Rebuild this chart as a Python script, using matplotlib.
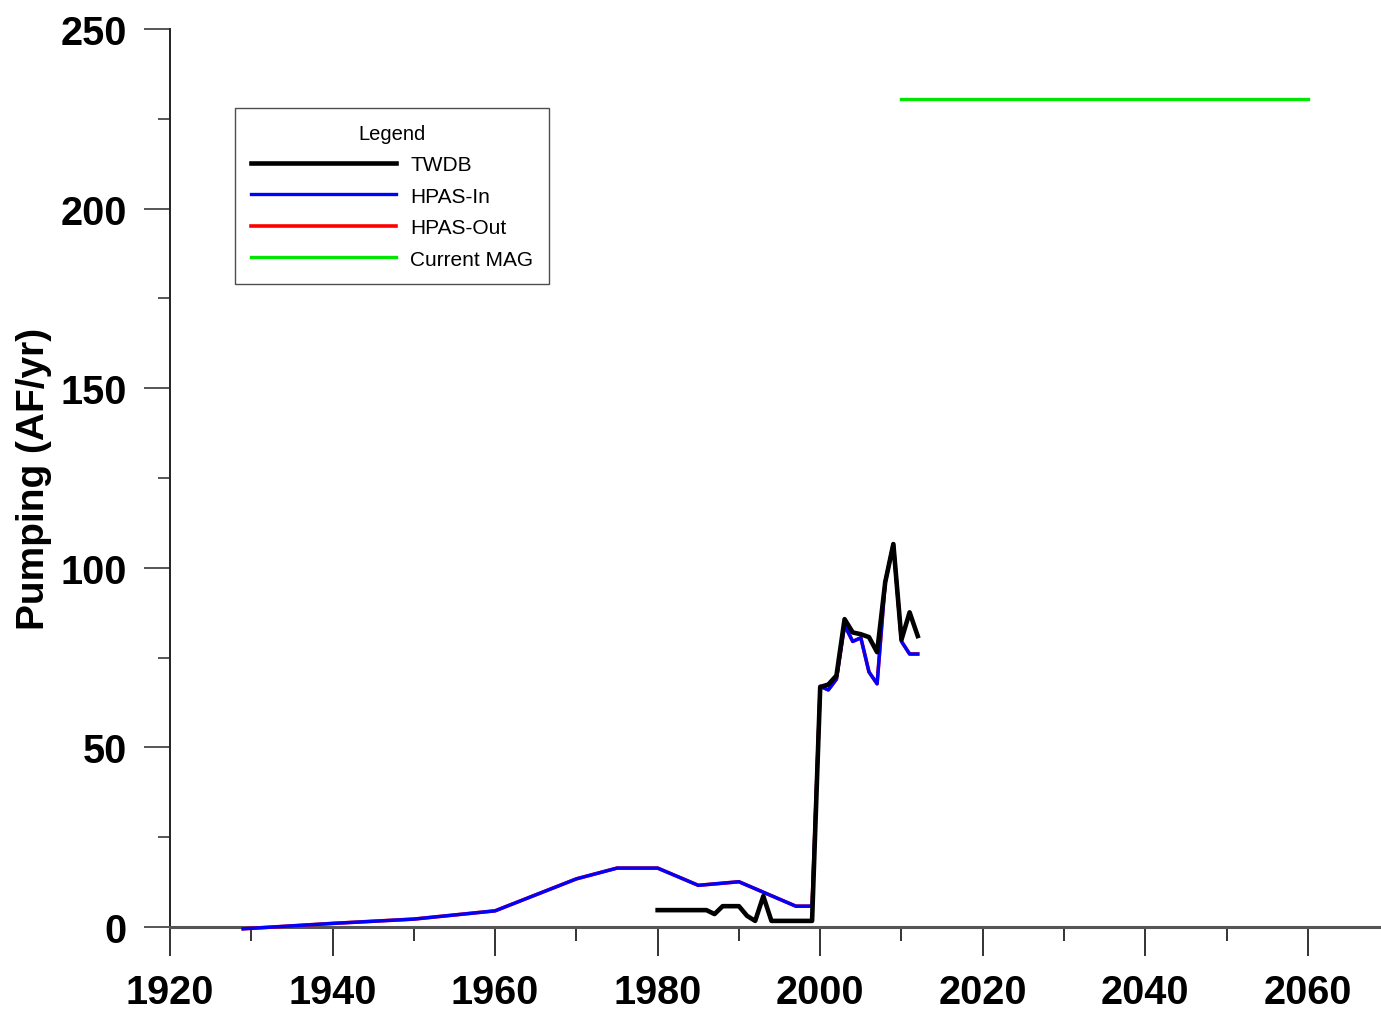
import matplotlib
matplotlib.use("Agg")
import matplotlib.pyplot as plt
from matplotlib.ticker import MultipleLocator

plt.rcParams["font.family"] = ["Liberation Sans", "DejaVu Sans"]

# --- data ---
twdb_years = list(range(1980, 2013))
twdb = [4.7, 4.7, 4.7, 4.7, 4.7, 4.7, 4.7, 3.6, 5.8, 5.8, 5.8, 3.1, 1.7, 8.6,
        1.7, 1.7, 1.7, 1.7, 1.7, 1.7, 66.8, 67.5, 70.0, 85.7, 82.0, 81.5, 80.7,
        76.5, 96.0, 106.6, 80.0, 87.6, 81.0]

hpas_years = [1929, 1940, 1950, 1960, 1970, 1975, 1980, 1985, 1990, 1997, 1998,
              1999, 2000, 2001, 2002, 2003, 2004, 2005, 2006, 2007, 2008, 2009,
              2010, 2011, 2012]
hpas_in = [-0.5, 1.0, 2.2, 4.5, 13.4, 16.4, 16.4, 11.6, 12.6, 5.8, 5.8, 5.8,
           67.0, 66.0, 69.0, 84.0, 79.5, 80.5, 71.0, 67.7, 96.0, 106.6, 79.5,
           76.0, 76.0]
# HPAS-Out sits right under HPAS-In in the reference
hpas_out = [-0.5, 1.0, 2.2, 4.5, 13.4, 16.4, 16.4, 11.6, 12.6, 5.8, 5.8, 5.8,
            67.0, 66.0, 69.0, 84.0, 79.5, 80.5, 71.0, 67.7, 96.0, 106.6, 79.5,
            76.0, 76.0]

mag_years = [2010, 2060]
mag = [230.5, 230.5]

BLACK, BLUE, RED, GREEN = "#000000", "#0000ff", "#ff0000", "#00e600"

fig = plt.figure(figsize=(13.81, 10.12), dpi=100)
ax = fig.add_axes([0.1231, 0.083, 0.8769, 0.8874])

ax.plot(hpas_years, hpas_out, color=RED, lw=2.6, zorder=3, clip_on=False,
        label="HPAS-Out")
ax.plot(hpas_years, hpas_in, color=BLUE, lw=2.4, zorder=4, clip_on=False,
        label="HPAS-In")
ax.plot(twdb_years, twdb, color=BLACK, lw=3.3, zorder=5, clip_on=False,
        label="TWDB")
ax.plot(mag_years, mag, color=GREEN, lw=2.4, zorder=3, label="Current MAG")

ax.set_xlim(1920, 2069)
ax.set_ylim(0, 250)
ax.xaxis.set_major_locator(MultipleLocator(20))
ax.xaxis.set_minor_locator(MultipleLocator(10))
ax.yaxis.set_major_locator(MultipleLocator(50))
ax.yaxis.set_minor_locator(MultipleLocator(25))

for s in ("top", "right"):
    ax.spines[s].set_visible(False)
ax.spines["bottom"].set_color("#555555")
ax.spines["bottom"].set_linewidth(2.2)
ax.spines["left"].set_color("#222222")
ax.spines["left"].set_linewidth(1.4)

ax.tick_params(axis="x", which="major", direction="out", length=21, width=1.4,
               color="#333333", pad=12, labelsize=28.5)
ax.tick_params(axis="x", which="minor", direction="out", length=10, width=1.4,
               color="#333333")
ax.tick_params(axis="y", which="major", direction="out", length=19, width=1.4,
               color="#555555", pad=12, labelsize=28.5)
ax.tick_params(axis="y", which="minor", direction="out", length=9, width=1.4,
               color="#555555")
for lab in ax.get_xticklabels() + ax.get_yticklabels():
    lab.set_fontweight("bold")

ax.set_ylabel("Pumping (AF/yr)", fontsize=28, fontweight="bold", labelpad=6)

handles, labels = ax.get_legend_handles_labels()
order = ["TWDB", "HPAS-In", "HPAS-Out", "Current MAG"]
hmap = dict(zip(labels, handles))
leg = ax.legend([hmap[k] for k in order], order, title="Legend",
                loc="upper left", bbox_to_anchor=(0.0537, 0.912),
                borderaxespad=0, fancybox=False, frameon=True,
                edgecolor="#222222", fontsize=15, title_fontsize=14.5,
                handlelength=7.0, handletextpad=0.67, labelspacing=0.6,
                borderpad=0.75)
leg.get_frame().set_linewidth(1.0)
leg.legend_handles[0].set_linewidth(3.3)

fig.savefig("out.png", dpi=100)
